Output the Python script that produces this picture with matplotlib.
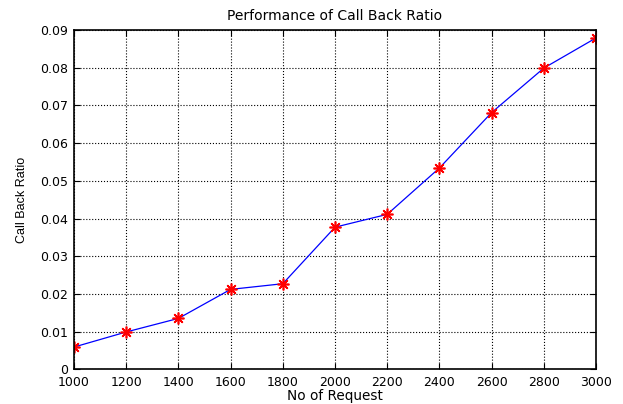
import numpy as np
from matplotlib import pyplot as plt

plt.rcParams['font.family'] = ['DejaVu Sans']

n_request = [1000, 1200, 1400, 1600, 1800, 2000, 2200, 2400, 2600, 2800, 3000]
call_back_ratio = [0.0059, 0.0099, 0.0135, 0.0212, 0.0227, 0.0377, 0.0411, 0.0534, 0.0681, 0.0799, 0.0879]

fig = plt.figure(figsize=(6.23, 4.04), dpi=100)
ax = fig.add_axes([0.1188, 0.0859, 0.8379, 0.8398])

# Blue line with red asterisk markers, MATLAB style
ax.plot(n_request, call_back_ratio, color='blue', linewidth=0.9)
ax.plot(n_request, call_back_ratio, linestyle='none', marker=(8, 2, 0), color='red',
        markersize=8.5, markeredgewidth=1.2)

ax.set_xlim(1000, 3000)
ax.set_ylim(0, 0.09)
ax.set_xticks(np.arange(1000, 3001, 200))
ax.set_yticks(np.arange(0, 0.091, 0.01))
ax.set_yticklabels(['0'] + ['%.2f' % v for v in np.arange(0.01, 0.091, 0.01)])

ax.grid(True, color='black', linestyle=':', linewidth=0.8)
ax.tick_params(direction='in', top=True, right=True, labelsize=9, length=4)
ax.tick_params(axis='x', pad=5)
ax.tick_params(axis='y', pad=4)
for s in ax.spines.values():
    s.set_linewidth(1.2)

ax.set_title('Performance of Call Back Ratio', fontsize=10, pad=7)
ax.set_xlabel('No of Request', fontsize=9.8, labelpad=0)
ax.set_ylabel('Call Back Ratio', fontsize=9, labelpad=9, family='Liberation Sans')

plt.savefig('out.png', dpi=100)
